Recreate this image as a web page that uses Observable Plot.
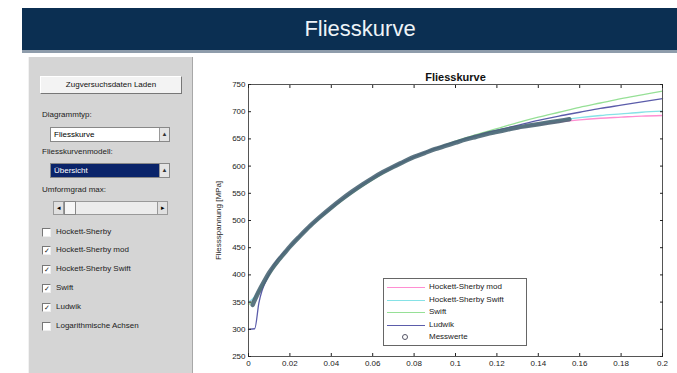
<!DOCTYPE html>
<html><head><meta charset="utf-8">
<script src="https://cdn.jsdelivr.net/npm/d3@7"></script>
<script src="https://cdn.jsdelivr.net/npm/@observablehq/plot@0.6"></script>
<style>
body{margin:0;background:#fff;width:677px;height:373px;overflow:hidden;position:relative;font-family:"Liberation Sans",Arial,sans-serif;}
#hdr{position:absolute;left:22px;top:8px;width:655px;height:42px;background:#0b2f52;border-bottom:3px solid #8e9cab;}
#hdr span{position:absolute;left:338px;top:8px;transform:translateX(-50%);color:#eef3f7;font-size:22px;white-space:nowrap;}
#panel{position:absolute;left:28px;top:57px;width:163px;height:316px;background:#d5d5d5;border-left:1px solid #f2f2f2;border-right:1px solid #a8a8a8;}
.ab{position:absolute;font-size:8px;color:#222;white-space:nowrap;}
.btn{position:absolute;left:40px;top:76px;width:140px;height:16px;background:#f3f3f3;border:1px solid #fff;border-right-color:#777;border-bottom-color:#777;font-size:8px;text-align:center;line-height:16px;color:#111;}
.sel{position:absolute;left:50px;width:115px;height:13px;background:#fff;border:1px solid #888;font-size:8px;line-height:13px;padding-left:3px;box-sizing:content-box;}
.sel .arr{position:absolute;right:0;top:0;width:9px;height:13px;background:#e4e4e4;border-left:1px solid #999;font-size:6px;text-align:center;color:#333;line-height:13px;}
.cb{position:absolute;left:42px;width:7px;height:7px;background:#fff;border:1px solid #777;border-right-color:#eee;border-bottom-color:#eee;font-size:7px;line-height:7px;text-align:center;color:#222;}
#chart{position:absolute;left:191px;top:55px;}
#legend{position:absolute;left:383px;top:278px;width:142px;height:66px;background:#fff;border:1px solid #666;}
.le{position:absolute;left:0;height:12px;width:142px;font-size:8px;line-height:12px;color:#222;}
.le .smp{position:absolute;left:3px;top:6px;width:38px;height:0;}
.le .tx{position:absolute;left:45px;top:0;white-space:nowrap;}
</style></head>
<body>
<div id="hdr"><span>Fliesskurve</span></div>
<div id="panel"></div>
<div id="controls"></div>
<div id="chart"></div>
<div id="legend"></div>
<script>
// ---- data ----
const xTicks = [0, 0.02, 0.04, 0.06, 0.08, 0.1, 0.12, 0.14, 0.16, 0.18, 0.2];
const xTickLabels = ["0","0.02","0.04","0.06","0.08","0.1","0.12","0.14","0.16","0.18","0.2"];
const yTicks = [250, 300, 350, 400, 450, 500, 550, 600, 650, 700, 750];

const modelStrain = [0, 0.003, 0.005, 0.01, 0.02, 0.03, 0.04, 0.05, 0.06, 0.07, 0.08, 0.09, 0.10, 0.11, 0.12, 0.13, 0.14, 0.15, 0.16, 0.17, 0.18, 0.19, 0.20];
const hsMod   = [348, 358, 370, 402, 451, 491, 524, 553, 578, 599, 617, 631, 643, 654, 663, 670, 676, 681, 685, 688, 690, 692, 693];
const hsSwift = [350, 360, 372, 402, 451, 491, 524, 553, 578, 599, 617, 631, 643, 654, 663, 671, 678, 684, 689, 693, 696, 699, 701];
const swift   = [345, 356, 368, 400, 450, 489, 521, 550, 575, 597, 616, 632, 646, 658, 669, 680, 690, 699, 708, 716, 724, 731, 738];
const ludwik  = [300, 301, 348, 402, 452, 491, 524, 553, 578, 599, 617, 632, 645, 656, 666, 675, 684, 692, 699, 706, 712, 718, 724];

const measStrain = [0.002,0.004,0.006,0.008,0.010,0.012,0.014,0.016,0.018,0.020,0.025,0.030,0.035,0.040,0.045,0.050,0.055,0.060,0.065,0.070,0.075,0.080,0.085,0.090,0.095,0.100,0.105,0.110,0.115,0.120,0.125,0.130,0.135,0.140,0.145,0.150,0.155];
const measStress = [345,362,377,391,404,415,425,434,443,452,472,491,508,524,539,553,566,578,589,599,608,617,624,631,637,643,649,654,659,663,667,671,674,677,680,683,686];

const seriesNames = ["Hockett-Sherby mod", "Hockett-Sherby Swift", "Swift", "Ludwik", "Messwerte"];
const seriesColors = ["#ff8ed2", "#86e2e6", "#96e096", "#5b5caa", "#4a6674"];

const checkLabels = ["Hockett-Sherby", "Hockett-Sherby mod", "Hockett-Sherby Swift", "Swift", "Ludwik", "Logarithmische Achsen"];
const checkStates = [false, true, true, true, true, false];

// ---- controls panel ----
const ctl = document.getElementById("controls");
let h = '<div class="btn">Zugversuchsdaten Laden</div>';
h += '<div class="ab" style="left:42px;top:110px">Diagrammtyp:</div>';
h += '<div class="sel" style="top:127px">Fliesskurve<div class="arr">▲</div></div>';
h += '<div class="ab" style="left:42px;top:147px">Fliesskurvenmodell:</div>';
h += '<div class="sel" style="top:163px;background:#0a246a;color:#fff">Übersicht<div class="arr">▲</div></div>';
h += '<div class="ab" style="left:42px;top:185px">Umformgrad max:</div>';
h += '<div style="position:absolute;left:53px;top:201px;width:113px;height:12px;background:#ececec;border:1px solid #999"></div>';
h += '<div style="position:absolute;left:53px;top:201px;width:9px;height:12px;background:#e0e0e0;border:1px solid #999;font-size:7px;line-height:12px;text-align:center">◂</div>';
h += '<div style="position:absolute;left:64px;top:201px;width:10px;height:12px;background:#f6f6f6;border:1px solid #888"></div>';
h += '<div style="position:absolute;left:157px;top:201px;width:9px;height:12px;background:#e0e0e0;border:1px solid #999;font-size:7px;line-height:12px;text-align:center">▸</div>';
const cbY = [228, 246, 265, 284, 303, 322];
checkLabels.forEach((t, i) => {
  h += `<div class="cb" style="top:${cbY[i]}px">${checkStates[i] ? "✓" : ""}</div>`;
  h += `<div class="ab" style="left:56px;top:${cbY[i] - 1}px">${t}</div>`;
});
ctl.innerHTML = h;

// ---- chart ----
const mk = (ys, name) => modelStrain.map((x, i) => ({x, y: ys[i], name}));
const models = [
  ...mk(hsMod, seriesNames[0]),
  ...mk(hsSwift, seriesNames[1]),
  ...mk(swift, seriesNames[2]),
  ...mk(ludwik, seriesNames[3])
];
const meas = measStrain.map((x, i) => ({x, y: measStress[i]}));

const chart = Plot.plot({
  width: 486, height: 318,
  marginLeft: 57, marginRight: 15, marginTop: 29, marginBottom: 17,
  style: {fontFamily: '"Liberation Sans", Arial, sans-serif', fontSize: "8px", color: "#222", background: "transparent"},
  x: {domain: [0, 0.2]},
  y: {domain: [250, 750]},
  color: {domain: seriesNames, range: seriesColors},
  marks: [
    Plot.line(models, {x: "x", y: "y", z: "name", stroke: "name", strokeWidth: 1.3, curve: "monotone-x"}),
    Plot.line(meas, {x: "x", y: "y", stroke: seriesColors[4], strokeWidth: 4.5, strokeOpacity: 0.9, curve: "monotone-x"}),
    Plot.frame({stroke: "#555"}),
    Plot.axisX({ticks: xTicks, tickSize: -3, tickPadding: 7, tickFormat: (d, i) => xTickLabels[i], label: null}),
    Plot.axisX({anchor: "top", ticks: xTicks, tickSize: -3, tickFormat: () => "", label: null}),
    Plot.axisY({ticks: yTicks, tickSize: -3, tickPadding: 6, label: "Fliessspannung [MPa]", labelAnchor: "center", labelOffset: 33, labelArrow: "none"}),
    Plot.axisY({anchor: "right", ticks: yTicks, tickSize: -3, tickFormat: () => "", label: null}),
    Plot.text(["Fliesskurve"], {frameAnchor: "top", dy: -11, fontWeight: "bold", fontSize: 11, fill: "#111"})
  ]
});
document.getElementById("chart").appendChild(chart);

// ---- legend ----
const lg = document.getElementById("legend");
let lh = "";
seriesNames.forEach((n, i) => {
  const top = 2 + i * 12.5;
  const sample = i < 4
    ? `<div class="smp" style="border-top:1.5px solid ${seriesColors[i]}"></div>`
    : `<div style="position:absolute;left:18px;top:3px;width:4px;height:4px;border:1px solid #556;border-radius:50%"></div>`;
  lh += `<div class="le" style="top:${top}px">${sample}<div class="tx">${n}</div></div>`;
});
lg.innerHTML = lh;
</script>
</body></html>
